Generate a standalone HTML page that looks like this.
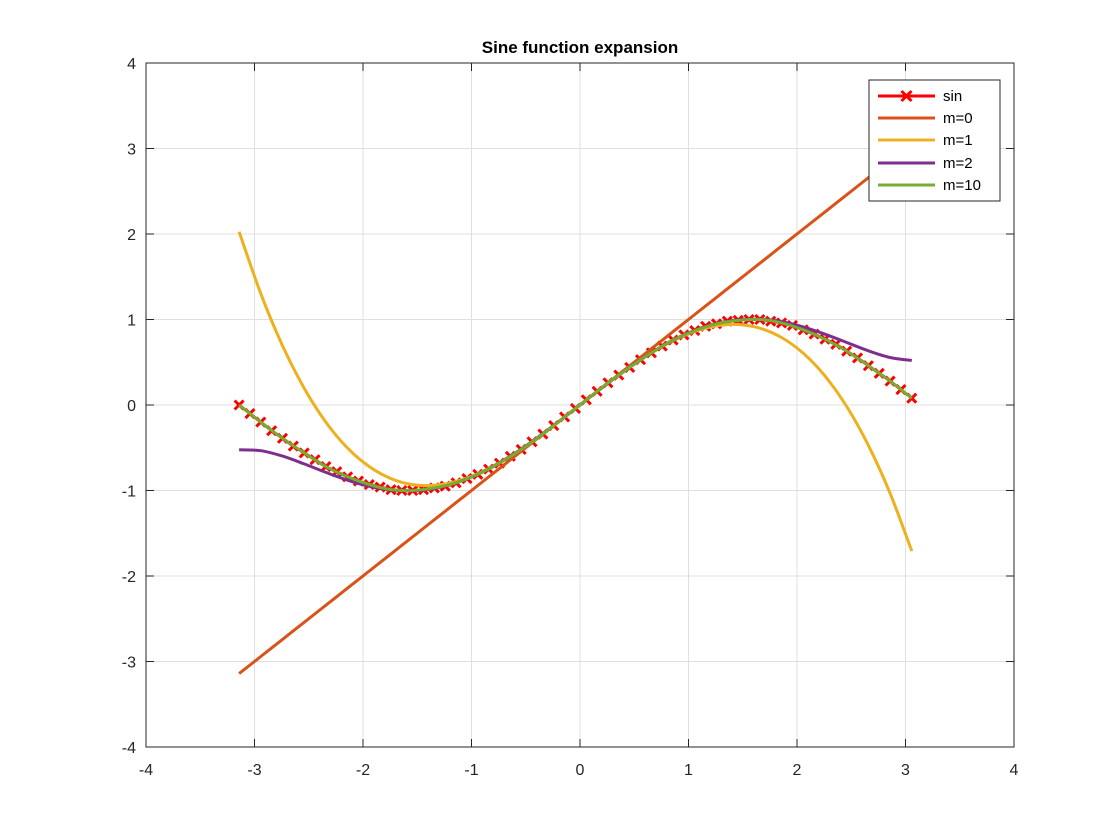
<!DOCTYPE html>
<html><head><meta charset="utf-8"><style>
html,body{margin:0;padding:0;background:#fff;}
svg{display:block;font-family:"Liberation Sans",Arial,sans-serif;}
</style></head><body>
<svg id="chart" width="1120" height="840" viewBox="0 0 1120 840">
<rect x="0" y="0" width="1120" height="840" fill="#fff"/>
<text x="580" y="53" text-anchor="middle" font-size="17" font-weight="bold" fill="#000">Sine function expansion</text>
<g id="grid"></g>
<g id="plot"></g>
<g id="axes"></g>
<g id="legend"></g>
</svg>
<script>
const xTicks = [-4,-3,-2,-1,0,1,2,3,4];
const yTicks = [-4,-3,-2,-1,0,1,2,3,4];
const seriesNames = ["sin","m=0","m=1","m=2","m=10"];
const sinX = [-3.142,-3.042,-2.942,-2.842,-2.742,-2.642,-2.542,-2.442,-2.342,-2.242,-2.142,-2.042,-1.942,-1.842,-1.742,-1.642,-1.542,-1.442,-1.342,-1.242,-1.142,-1.042,-0.942,-0.842,-0.742,-0.642,-0.542,-0.442,-0.342,-0.242,-0.142,-0.042,0.058,0.158,0.258,0.358,0.458,0.558,0.658,0.758,0.858,0.958,1.058,1.158,1.258,1.358,1.458,1.558,1.658,1.758,1.858,1.958,2.058,2.158,2.258,2.358,2.458,2.558,2.658,2.758,2.858,2.958,3.058];
const sinY = [0,-0.10,-0.20,-0.30,-0.39,-0.48,-0.56,-0.64,-0.72,-0.78,-0.84,-0.89,-0.93,-0.96,-0.99,-1.00,-1.00,-0.99,-0.97,-0.95,-0.91,-0.86,-0.81,-0.75,-0.68,-0.60,-0.52,-0.43,-0.34,-0.24,-0.14,-0.04,0.06,0.16,0.26,0.35,0.44,0.53,0.61,0.69,0.76,0.82,0.87,0.92,0.95,0.98,0.99,1.00,1.00,0.98,0.96,0.93,0.88,0.83,0.77,0.71,0.63,0.55,0.46,0.37,0.28,0.18,0.08];
const lineX = [-3.142,-2.942,-2.742,-2.542,-2.342,-2.142,-1.942,-1.742,-1.542,-1.342,-1.142,-0.942,-0.742,-0.542,-0.342,-0.142,0.058,0.258,0.458,0.658,0.858,1.058,1.258,1.458,1.658,1.858,2.058,2.258,2.458,2.658,2.858,3.058];
const m0Y = [-3.142,-2.942,-2.742,-2.542,-2.342,-2.142,-1.942,-1.742,-1.542,-1.342,-1.142,-0.942,-0.742,-0.542,-0.342,-0.142,0.058,0.258,0.458,0.658,0.858,1.058,1.258,1.458,1.658,1.858,2.058,2.258,2.458,2.658,2.858,3.058];
const m1Y = [2.026,1.302,0.694,0.196,-0.201,-0.504,-0.721,-0.861,-0.931,-0.939,-0.894,-0.803,-0.674,-0.516,-0.335,-0.142,0.058,0.255,0.442,0.611,0.753,0.861,0.926,0.941,0.898,0.789,0.605,0.339,-0.017,-0.472,-1.033,-1.708];
const m2Y = [-0.524,-0.534,-0.598,-0.689,-0.788,-0.880,-0.951,-0.995,-1.004,-0.975,-0.910,-0.809,-0.676,-0.516,-0.335,-0.142,0.058,0.255,0.442,0.611,0.757,0.872,0.952,0.996,1.002,0.974,0.913,0.828,0.731,0.634,0.556,0.521];
const m10Y = [0,-0.20,-0.39,-0.56,-0.72,-0.84,-0.93,-0.99,-1.00,-0.97,-0.91,-0.81,-0.68,-0.52,-0.34,-0.14,0.06,0.26,0.44,0.61,0.76,0.87,0.95,0.99,1.00,0.96,0.88,0.77,0.63,0.46,0.28,0.08];

const NS="http://www.w3.org/2000/svg";
const L=146,R=1014,T=63,B=747;
function sx(v){return L+(v-(-4))/(8)*(R-L);}
function sy(v){return B-(v-(-4))/(8)*(B-T);}
function mk(tag,attrs,parent){const e=document.createElementNS(NS,tag);for(const k in attrs)e.setAttribute(k,attrs[k]);parent.appendChild(e);return e;}
const grid=document.getElementById('grid'),plot=document.getElementById('plot'),axes=document.getElementById('axes'),legend=document.getElementById('legend');

xTicks.forEach(t=>{
  const g=mk('line',{x1:sx(t),x2:sx(t),y1:T,y2:B,stroke:'#dfdfdf','stroke-width':1},grid);
  
  
  const tk=mk('line',{x1:sx(t),x2:sx(t),y1:B,y2:B-8,stroke:'#262626','stroke-width':1},axes);
  
  
  const tk2=mk('line',{x1:sx(t),x2:sx(t),y1:T,y2:T+8,stroke:'#262626','stroke-width':1},axes);
  
  
  const lb=mk('text',{x:sx(t),y:B+28,'text-anchor':'middle','font-size':16,fill:'#262626'},axes);
  lb.textContent=String(t);
  
  
});
yTicks.forEach(t=>{
  const g=mk('line',{x1:L,x2:R,y1:sy(t),y2:sy(t),stroke:'#dfdfdf','stroke-width':1},grid);
  
  
  const tk=mk('line',{x1:L,x2:L+8,y1:sy(t),y2:sy(t),stroke:'#262626','stroke-width':1},axes);
  
  
  const tk2=mk('line',{x1:R,x2:R-8,y1:sy(t),y2:sy(t),stroke:'#262626','stroke-width':1},axes);
  
  
  const lb=mk('text',{x:L-10,y:sy(t)+6,'text-anchor':'end','font-size':16,fill:'#262626'},axes);
  lb.textContent=String(t);
  
  
});
const box=mk('rect',{x:L,y:T,width:R-L,height:B-T,fill:'none',stroke:'#262626','stroke-width':1},axes);



const colors=['#ff0000','#d95319','#edb120','#7e2f8e','#77ac30'];
function smoothPath(xs,ys){
  const P=xs.map((x,i)=>[sx(x),sy(ys[i])]);
  let d='M'+P[0][0].toFixed(1)+','+P[0][1].toFixed(1);
  for(let i=0;i<P.length-1;i++){
    const p0=P[i-1]||P[i],p1=P[i],p2=P[i+1],p3=P[i+2]||P[i+1];
    const c1x=p1[0]+(p2[0]-p0[0])/6,c1y=p1[1]+(p2[1]-p0[1])/6;
    const c2x=p2[0]-(p3[0]-p1[0])/6,c2y=p2[1]-(p3[1]-p1[1])/6;
    d+=`C${c1x.toFixed(1)},${c1y.toFixed(1)} ${c2x.toFixed(1)},${c2y.toFixed(1)} ${p2[0].toFixed(1)},${p2[1].toFixed(1)}`;
  }
  return d;
}
function drawLine(xs,ys,color,name){
  const pl=mk('path',{d:smoothPath(xs,ys),fill:'none',stroke:color,'stroke-width':3,'stroke-linejoin':'round'},plot);
  
  
}
function drawX(cx,cy,s,parent){
  return mk('path',{d:`M${cx-s},${cy-s}L${cx+s},${cy+s}M${cx-s},${cy+s}L${cx+s},${cy-s}`,stroke:'#ff0000','stroke-width':3,fill:'none'},parent);
}
drawLine(sinX,sinY,colors[0],'sin-line');
sinX.forEach((x,i)=>{
  const m=drawX(sx(x),sy(sinY[i]),4.5,plot);
  
  
});
drawLine(lineX,m0Y,colors[1],'m0-line');
drawLine(lineX,m1Y,colors[2],'m1-line');
drawLine(lineX,m2Y,colors[3],'m2-line');
drawLine(lineX,m10Y,colors[4],'m10-line');

const lb=mk('rect',{x:869,y:80,width:131,height:121,fill:'#fff',stroke:'#262626','stroke-width':1},legend);


const ly=[96,118,140,163,185];
seriesNames.forEach((n,i)=>{
  const g=mk('g',{},legend);
  
  
  mk('line',{x1:878,x2:935,y1:ly[i],y2:ly[i],stroke:colors[i],'stroke-width':3},g);
  if(i===0) drawX(906.5,ly[i],5,g);
  const t=mk('text',{x:943,y:ly[i]+5,'font-size':15,fill:'#000'},g);
  t.textContent=n;
});
</script>
</body></html>
